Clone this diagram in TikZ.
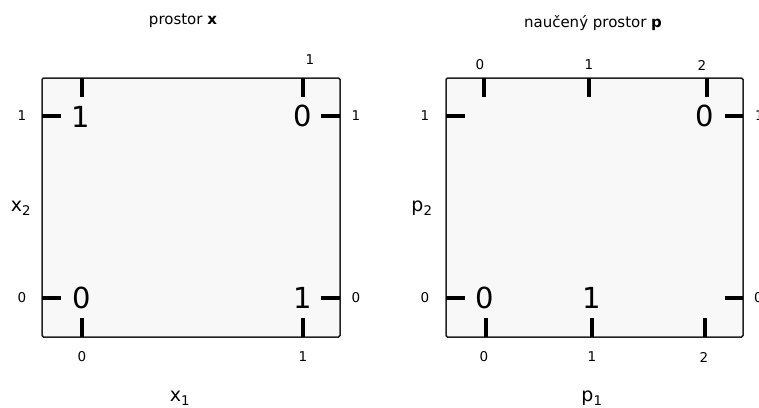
\documentclass[tikz,border=0pt]{standalone}
\usepackage{fontspec}
\setmainfont{DejaVu Sans}
\definecolor{boxfill}{RGB}{248,248,248}
\definecolor{boxline}{RGB}{34,34,34}
\begin{document}
\begin{tikzpicture}[x=1pt,y=-1pt,
  panel/.style={draw=boxline,fill=boxfill,line width=1.5pt,rounded corners=1.5pt},
  tick/.style={line width=3.2pt,black},
  ticklab/.style={font=\fontsize{13.5}{15}\selectfont,inner sep=0pt},
  bigdig/.style={font=\fontsize{29}{32}\selectfont,inner sep=0pt},
  axlab/.style={font=\fontsize{19}{21}\selectfont,inner sep=0pt},
  ttl/.style={font=\fontsize{15}{17}\selectfont,inner sep=0pt}]
\useasboundingbox (0,0) rectangle (759,407);
% left panel
\draw[panel] (42,78) rectangle (340,337);
\foreach \x in {82,303} {\draw[tick] (\x,78) -- (\x,97); \draw[tick] (\x,318) -- (\x,337);}
\foreach \y in {116,298} {\draw[tick] (42,\y) -- (61,\y); \draw[tick] (321,\y) -- (340,\y);}
\node[ttl] (t1) at (183,21) {prostor \textbf{x}};
\node[ticklab] (lt1) at (310,60) {1};
\node[ticklab] (lb0) at (82,357) {0};
\node[ticklab] (lb1) at (303,357) {1};
\node[ticklab] (ll1) at (22,116) {1};
\node[ticklab] (ll0) at (22,298) {0};
\node[ticklab] (lr1) at (356,116) {1};
\node[ticklab] (lr0) at (356,298) {0};
\node[bigdig] (la) at (81,117) {1};
\node[bigdig] (lb) at (303,116) {0};
\node[bigdig] (lc) at (82,298) {0};
\node[bigdig] (ld) at (303,298) {1};
\node[axlab] (x1) at (180,398) {x\textsubscript{1}};
\node[axlab] (x2) at (21,208) {x\textsubscript{2}};
% right panel
\draw[panel] (446,78) rectangle (743,337);
\foreach \x in {484,589,707} {\draw[tick] (\x,78) -- (\x,97);}
\foreach \x in {486,592,705} {\draw[tick] (\x,318) -- (\x,337);}
\foreach \y in {116,298} {\draw[tick] (446,\y) -- (465,\y); \draw[tick] (725,\y) -- (743,\y);}
\node[ttl] (t2) at (593,23) {naučený prostor \textbf{p}};
\node[ticklab] (rt0) at (480,65) {0};
\node[ticklab] (rt1) at (589,65) {1};
\node[ticklab] (rt2) at (702,65) {2};
\node[ticklab] (rb0) at (484,357) {0};
\node[ticklab] (rb1) at (592,357) {1};
\node[ticklab] (rb2) at (704,357) {2};
\node[ticklab] (rl1) at (425,116) {1};
\node[ticklab] (rl0) at (425,298) {0};
\node[ticklab,anchor=west] (rr1) at (755,116) {1};
\node[ticklab,anchor=west] (rr0) at (754,298) {0};
\node[bigdig] (ra) at (705,116) {0};
\node[bigdig] (rb) at (485,298) {0};
\node[bigdig] (rc) at (592,298) {1};
\node[axlab] (p1) at (592,398) {p\textsubscript{1}};
\node[axlab] (p2) at (422,208) {p\textsubscript{2}};
\end{tikzpicture}
\end{document}
